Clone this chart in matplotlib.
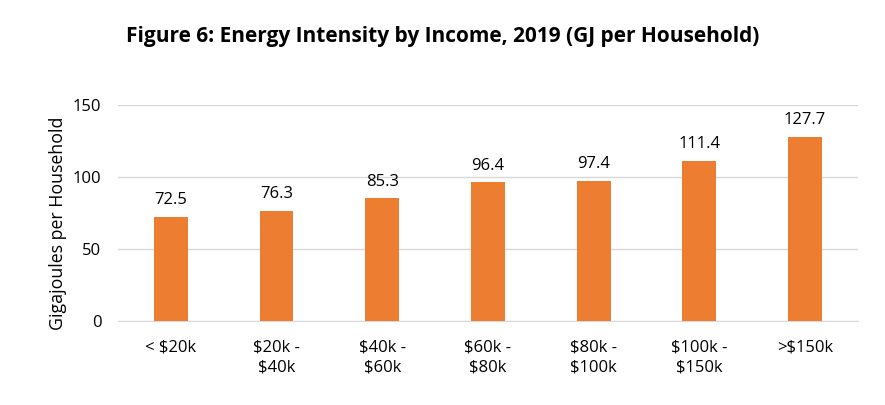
import matplotlib.pyplot as plt

plt.rcParams['text.parse_math'] = False
plt.rcParams['font.family'] = ['Open Sans', 'DejaVu Sans']

income = ['< $20k', '$20k -\n$40k', '$40k -\n$60k', '$60k -\n$80k',
          '$80k -\n$100k', '$100k -\n$150k', '>$150k']
gj = [72.5, 76.3, 85.3, 96.4, 97.4, 111.4, 127.7]

fig = plt.figure(figsize=(8.85, 4.05), dpi=100)
ax = fig.add_axes([0.1333, 0.2074, 0.836, 0.5333])

x = range(len(income))
ax.bar(x, gj, width=0.32, color='#ED7D31', zorder=3)
for xi, v in zip(x, gj):
    ax.text(xi, v + 6, f'{v:.1f}', ha='center', va='bottom', fontsize=12, color='#000000')

ax.set_xlim(-0.5, len(income) - 0.5)
ax.set_ylim(0, 150)
ax.set_yticks([0, 50, 100, 150])
ax.set_xticks(list(x))
ax.set_xticklabels(income, fontsize=12, linespacing=1.35)
ax.tick_params(axis='both', length=0, labelsize=12, colors='#000000')
ax.tick_params(axis='x', pad=13)
ax.tick_params(axis='y', pad=12)
ax.grid(axis='y', color='#D9D9D9', linewidth=1, zorder=0)
for s in ['left', 'right', 'top']:
    ax.spines[s].set_visible(False)
ax.spines['bottom'].set_color('#D9D9D9')
ax.set_ylabel('Gigajoules per Household', fontsize=12.8)
ax.yaxis.set_label_coords(-0.069, 0.45)

fig.suptitle('Figure 6: Energy Intensity by Income, 2019 (GJ per Household)',
             x=0.5, y=0.935, fontsize=15, fontweight='bold')

fig.savefig('out.png', dpi=100)
